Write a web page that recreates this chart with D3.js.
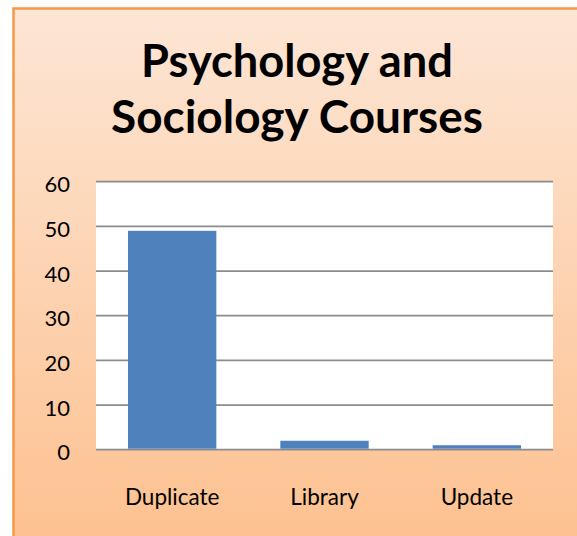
<!DOCTYPE html>
<html><head><meta charset="utf-8">
<script src="https://cdn.jsdelivr.net/npm/d3@7"></script>
<style>html,body{margin:0;padding:0;background:#fff;overflow:hidden}</style>
</head><body>
<script>
const categories = ["Duplicate", "Library", "Update"];
const values = [49, 2, 1];
const yTicks = [0, 10, 20, 30, 40, 50, 60];
const titleLines = ["Psychology and", "Sociology Courses"];

const W = 577, H = 536;
const svg = d3.select("body").append("svg").attr("width", W).attr("height", H);
const defs = svg.append("defs");
const grad = defs.append("linearGradient").attr("id", "bg").attr("x1", 0).attr("y1", 0).attr("x2", 0).attr("y2", 1);
grad.append("stop").attr("offset", "0%").attr("stop-color", "#fde6d5");
grad.append("stop").attr("offset", "100%").attr("stop-color", "#fdc08e");

svg.append("rect").attr("x", 13.5).attr("y", 8.5).attr("width", W + 10).attr("height", H + 10)
  .attr("fill", "url(#bg)").attr("stroke", "#f79646").attr("stroke-width", 2.5);

const font = "Lato, 'Open Sans', sans-serif";
const m = {left: 96, right: 553, top: 181.7, bottom: 449.7};
const x = d3.scaleBand().domain(categories).range([m.left, m.right]).paddingInner(0.42).paddingOuter(0.21);
const y = d3.scaleLinear().domain([0, 60]).range([m.bottom, m.top]);

svg.append("rect").attr("x", m.left).attr("y", m.top).attr("width", m.right - m.left).attr("height", m.bottom - m.top).attr("fill", "#fff");

// gridlines
svg.append("g").selectAll("line").data(yTicks).join("line")
  .attr("x1", m.left).attr("x2", m.right)
  .attr("y1", d => y(d)).attr("y2", d => y(d))
  .attr("stroke", "#8c8c8c").attr("stroke-width", 1.8);

// bars
svg.append("g").selectAll("rect").data(values).join("rect")
  .attr("x", (d, i) => x(categories[i]))
  .attr("width", x.bandwidth())
  .attr("y", d => y(d))
  .attr("height", d => y(0) - y(d) - 1)
  .attr("fill", "#4f81bd");

// y axis labels
const yAxis = d3.axisLeft(y).tickValues(yTicks).tickSize(0).tickPadding(0);
const ya = svg.append("g").attr("transform", "translate(70,3)").call(yAxis);
ya.select(".domain").remove();
ya.selectAll("text").attr("font-family", font).attr("font-size", 22).attr("fill", "#000");

// x axis labels
const xAxis = d3.axisBottom(x).tickSize(0).tickPadding(0);
const xa = svg.append("g").attr("transform", "translate(0,488)").call(xAxis);
xa.select(".domain").remove();
xa.selectAll("text").attr("font-family", font).attr("font-size", 22.5).attr("fill", "#000").attr("dy", "0.75em");

// title
const targetW = [312, 372];
const tl = svg.append("g");
titleLines.forEach((t, i) => {
  const el = tl.append("text").attr("x", 297).attr("y", 77 + i * 56).attr("text-anchor", "middle")
    .attr("font-family", font).attr("font-weight", "bold").attr("font-size", 42).attr("fill", "#000").text(t);
  const w = el.node().getComputedTextLength();
  el.attr("font-size", 42 * targetW[i] / w);
});
</script>
</body></html>
